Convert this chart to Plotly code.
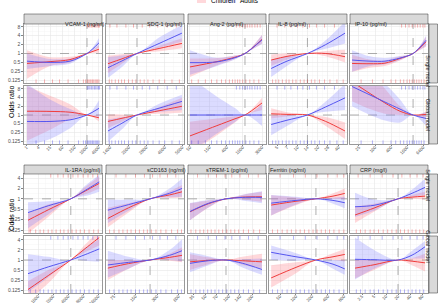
import math
import plotly.graph_objects as go

# ---------------- data ----------------
markers = ["VCAM-1 (ng/ml)", "SDC-1 (pg/ml)", "Ang-2 (pg/ml)", "IL-8 (pg/ml)", "IP-10 (pg/ml)",
           "IL-1RA (pg/ml)", "sCD163 (ng/ml)", "sTREM-1 (pg/ml)", "Ferritin (ng/ml)", "CRP (mg/l)"]
models = ["Single model", "Global model"]
groups = ["Children", "Adults"]

# reference value (OR = 1) of each biomarker
ref_values = [1060, 2350, 1140, 14, 2700, 4530, 240, 92.7, 238, 20]

# x tick labels of each biomarker
ticks_vcam = [1, 4, 15, 60, 250, 1000, 4000]
ticks_sdc = [1400, 2000, 2800, 4000, 5600]
ticks_ang = [50, 150, 400, 1000, 3000]
ticks_il8 = [5, 7, 10, 14, 20, 28, 40]
ticks_ip10 = [25, 100, 400, 1600, 6400]
ticks_il1ra = [1000, 2000, 4000, 8000, 16000]
ticks_scd = [75, 150, 300, 600]
ticks_trem = [35, 50, 70, 100, 140, 200]
ticks_ferr = [50, 100, 200, 400, 800]
ticks_crp = [2.5, 5, 10, 20, 40, 80]

# ---- VCAM-1
vcam_x = [1.06, 15, 150, 1060, 4200]
vcam_s_ch_or = [0.46, 0.53, 0.62, 1, 1.4]
vcam_s_ch_lo = [0.14, 0.38, 0.5, 1, 1.05]
vcam_s_ch_hi = [1.3, 0.75, 0.78, 1, 1.9]
vcam_s_ad_or = [0.55, 0.5, 0.55, 1, 2.3]
vcam_s_ad_lo = [0.3, 0.38, 0.45, 1, 1.6]
vcam_s_ad_hi = [1.0, 0.65, 0.68, 1, 3.3]
vcam_g_ch_or = [1.35, 1.33, 1.25, 1, 0.8]
vcam_g_ch_lo = [0.13, 0.31, 0.7, 1, 0.6]
vcam_g_ch_hi = [10, 4.6, 2.35, 1, 1.05]
vcam_g_ad_or = [0.6, 0.6, 0.68, 1, 1.7]
vcam_g_ad_lo = [0.09, 0.15, 0.35, 1, 0.85]
vcam_g_ad_hi = [12, 3.4, 1.6, 1, 3.2]
vcam_rug_top = [1100, 1300, 1500, 1800, 2100, 2500, 2900, 3400, 4000, 4400]
vcam_rug_bot = [3, 8, 20, 45, 120, 400, 700, 900, 1100, 1300, 1500, 1700, 2000, 2300, 2700, 3100, 3600, 4200]

# ---- SDC-1
sdc_x = [1346, 1762, 2350, 3650, 5570]
sdc_s_ch_or = [0.45, 0.66, 1, 1.5, 2.2]
sdc_s_ch_lo = [0.22, 0.45, 1, 1.2, 1.5]
sdc_s_ch_hi = [0.85, 0.95, 1, 1.85, 3.3]
sdc_s_ad_or = [0.33, 0.56, 1, 2.25, 4.9]
sdc_s_ad_lo = [0.15, 0.35, 1, 1.6, 2.5]
sdc_s_ad_hi = [0.75, 0.85, 1, 3.6, 9.3]
sdc_g_ch_or = [0.6, 0.77, 1, 1.42, 2.0]
sdc_g_ch_lo = [0.35, 0.58, 1, 1.1, 1.2]
sdc_g_ch_hi = [1.05, 1.05, 1, 1.9, 3.9]
sdc_g_ad_or = [0.28, 0.52, 1, 1.75, 2.95]
sdc_g_ad_lo = [0.12, 0.32, 1, 1.3, 1.5]
sdc_g_ad_hi = [0.7, 0.85, 1, 2.5, 5.0]
sdc_rug_top = [1400, 1600, 1900, 2200, 2600, 3000, 3500, 4200, 5000]
sdc_rug_bot = [1380, 1450, 1550, 1650, 1750, 1850, 2000, 2150, 2300, 2500, 2700, 2900, 3200, 3600, 4000, 4600, 5300]

# ---- Ang-2
ang_x = [50, 232, 646, 1140, 3000]
ang_s_ch_or = [0.35, 0.53, 0.75, 1, 3.0]
ang_s_ch_lo = [0.16, 0.4, 0.65, 1, 2.2]
ang_s_ch_hi = [0.68, 0.7, 0.86, 1, 4.3]
ang_s_ad_or = [0.49, 0.52, 0.72, 1, 2.9]
ang_s_ad_lo = [0.19, 0.38, 0.62, 1, 2.1]
ang_s_ad_hi = [1.3, 0.72, 0.85, 1, 4.2]
ang_g_ch_or = [0.19, 0.43, 0.74, 1, 2.6]
ang_g_ch_lo = [0.05, 0.2, 0.55, 1, 1.5]
ang_g_ch_hi = [0.59, 0.75, 0.9, 1, 3.9]
ang_g_ad_or = [1, 1, 1, 1, 1]
ang_g_ad_lo = [0.05, 0.23, 0.57, 1, 0.42]
ang_g_ad_hi = [20, 4.3, 1.74, 1, 2.3]
ang_rug_top = [700, 850, 1000, 1150, 1300, 1500, 1700, 2000, 2300, 2700]
ang_rug_bot = [55, 80, 120, 170, 230, 300, 380, 470, 560, 650, 750, 850, 1000, 1200, 1500, 1900, 2500]

# ---- IL-8
il8_x = [4.1, 7, 14, 26, 50]
il8_s_ch_or = [0.6, 0.8, 1, 1.0, 0.78]
il8_s_ch_lo = [0.38, 0.62, 1, 0.8, 0.5]
il8_s_ch_hi = [0.92, 1.02, 1, 1.22, 1.35]
il8_s_ad_or = [0.31, 0.55, 1, 2.0, 4.9]
il8_s_ad_lo = [0.16, 0.38, 1, 1.45, 2.2]
il8_s_ad_hi = [0.6, 0.8, 1, 2.8, 12]
il8_g_ch_or = [1.1, 1.05, 1, 0.6, 0.28]
il8_g_ch_lo = [0.75, 0.88, 1, 0.42, 0.15]
il8_g_ch_hi = [1.7, 1.25, 1, 0.85, 0.55]
il8_g_ad_or = [0.47, 0.66, 1, 1.9, 3.9]
il8_g_ad_lo = [0.2, 0.42, 1, 1.3, 1.5]
il8_g_ad_hi = [0.95, 1.0, 1, 2.9, 12]
il8_rug_top = [5, 6.5, 8, 10, 12, 15, 19, 25, 35]
il8_rug_bot = [4.3, 4.8, 5.3, 6, 6.8, 7.5, 8.5, 9.5, 11, 12.5, 14, 16, 18, 21, 25, 30, 38, 47]

# ---- IP-10
ip10_x = [13.7, 65, 236, 871, 2700, 8300]
ip10_s_ch_or = [0.46, 0.45, 0.47, 0.68, 1, 2.5]
ip10_s_ch_lo = [0.24, 0.33, 0.38, 0.58, 1, 1.7]
ip10_s_ch_hi = [0.9, 0.62, 0.58, 0.8, 1, 3.7]
ip10_s_ad_or = [0.6, 0.55, 0.55, 0.7, 1, 2.8]
ip10_s_ad_lo = [0.24, 0.38, 0.43, 0.6, 1, 1.8]
ip10_s_ad_hi = [1.3, 0.8, 0.7, 0.82, 1, 4.0]
ip10_g_ch_or = [14, 5.5, 2.6, 1.35, 1, 1.05]
ip10_g_ch_lo = [3, 1.6, 1.1, 1.0, 1, 0.8]
ip10_g_ch_hi = [60, 30, 8, 2.0, 1, 1.3]
ip10_g_ad_or = [9.6, 4.9, 2.8, 1.6, 1, 0.76]
ip10_g_ad_lo = [2.0, 1.0, 0.65, 0.55, 1, 0.42]
ip10_g_ad_hi = [50, 30, 12, 3.4, 1, 1.3]
ip10_rug_top = [1000, 1400, 1900, 2500, 3200, 4000, 5000, 6300, 7500]
ip10_rug_bot = [30, 80, 200, 400, 600, 900, 1200, 1600, 2000, 2500, 3000, 3700, 4500, 5500, 7000]

# ---- IL-1RA
il1ra_x = [631, 1600, 4530, 8770, 16750]
il1ra_s_ch_or = [0.24, 0.48, 1, 1.68, 2.8]
il1ra_s_ch_lo = [0.1, 0.3, 1, 1.35, 2.0]
il1ra_s_ch_hi = [0.38, 0.68, 1, 2.2, 4.4]
il1ra_s_ad_or = [0.4, 0.63, 1, 1.75, 3.1]
il1ra_s_ad_lo = [0.14, 0.35, 1, 1.2, 1.6]
il1ra_s_ad_hi = [0.8, 0.85, 1, 2.4, 4.9]
il1ra_g_ch_or = [0.13, 0.34, 1, 2.2, 4.7]
il1ra_g_ch_lo = [0.06, 0.2, 1, 1.7, 2.7]
il1ra_g_ch_hi = [0.23, 0.5, 1, 2.9, 7.5]
il1ra_g_ad_or = [0.39, 0.62, 1, 1.45, 2.15]
il1ra_g_ad_lo = [0.11, 0.3, 1, 0.95, 0.88]
il1ra_g_ad_hi = [1.5, 1.25, 1, 2.3, 4.2]
il1ra_rug_top = [1800, 2500, 3200, 4000, 5000, 6300, 8000, 10000, 12500, 15500]
il1ra_rug_bot = [700, 900, 1100, 1300, 1600, 1900, 2300, 2800, 3300, 4000, 4800, 5800, 7000, 8500, 10500, 13000, 16000]

# ---- sCD163
scd_x = [61.5, 120, 240, 450, 672]
scd_s_ch_or = [0.27, 0.55, 1, 1.3, 1.6]
scd_s_ch_lo = [0.15, 0.4, 1, 1.05, 1.1]
scd_s_ch_hi = [0.55, 0.75, 1, 1.65, 2.5]
scd_s_ad_or = [0.47, 0.68, 1, 1.45, 2.0]
scd_s_ad_lo = [0.2, 0.45, 1, 1.12, 1.15]
scd_s_ad_hi = [0.95, 0.95, 1, 2.0, 3.9]
scd_g_ch_or = [0.57, 0.78, 1, 1.2, 1.38]
scd_g_ch_lo = [0.25, 0.55, 1, 0.95, 0.85]
scd_g_ch_hi = [1.0, 1.0, 1, 1.55, 2.4]
scd_g_ad_or = [0.71, 0.85, 1, 1.38, 1.9]
scd_g_ad_lo = [0.3, 0.55, 1, 1.0, 0.9]
scd_g_ad_hi = [1.9, 1.25, 1, 2.0, 4.2]
scd_rug_top = [80, 110, 150, 200, 260, 330, 420, 550]
scd_rug_bot = [65, 75, 88, 100, 115, 130, 150, 170, 195, 220, 250, 290, 340, 400, 480, 580, 660]

# ---- sTREM-1
trem_x = [32, 55, 92.7, 150, 268]
trem_s_ch_or = [0.42, 0.72, 1, 1.12, 1.15]
trem_s_ch_lo = [0.24, 0.55, 1, 0.95, 0.82]
trem_s_ch_hi = [0.74, 0.9, 1, 1.3, 1.6]
trem_s_ad_or = [0.43, 0.74, 1, 1.1, 1.1]
trem_s_ad_lo = [0.24, 0.56, 1, 0.9, 0.75]
trem_s_ad_hi = [0.76, 0.93, 1, 1.32, 1.65]
trem_g_ch_or = [0.88, 0.97, 1, 0.95, 0.88]
trem_g_ch_lo = [0.5, 0.75, 1, 0.72, 0.55]
trem_g_ch_hi = [1.5, 1.2, 1, 1.25, 1.55]
trem_g_ad_or = [0.79, 0.95, 1, 0.8, 0.52]
trem_g_ad_lo = [0.43, 0.7, 1, 0.6, 0.36]
trem_g_ad_hi = [1.7, 1.3, 1, 1.05, 1.1]
trem_rug_top = [40, 55, 70, 90, 110, 140, 180, 240]
trem_rug_bot = [33, 38, 43, 48, 54, 60, 67, 75, 84, 95, 107, 120, 135, 155, 180, 210, 250]

# ---- Ferritin
ferr_x = [34, 100, 238, 500, 835]
ferr_s_ch_or = [0.66, 0.85, 1, 1.2, 1.44]
ferr_s_ch_lo = [0.33, 0.65, 1, 1.0, 0.97]
ferr_s_ch_hi = [1.27, 1.1, 1, 1.45, 2.0]
ferr_s_ad_or = [0.75, 0.9, 1, 0.9, 0.77]
ferr_s_ad_lo = [0.33, 0.68, 1, 0.72, 0.53]
ferr_s_ad_hi = [1.3, 1.15, 1, 1.08, 1.15]
ferr_g_ch_or = [0.29, 0.6, 1, 1.25, 1.47]
ferr_g_ch_lo = [0.15, 0.4, 1, 1.0, 0.9]
ferr_g_ch_hi = [0.7, 0.85, 1, 1.6, 2.15]
ferr_g_ad_or = [1.7, 1.25, 1, 0.75, 0.54]
ferr_g_ad_lo = [1.0, 0.95, 1, 0.55, 0.36]
ferr_g_ad_hi = [2.7, 1.6, 1, 1.0, 1.0]
ferr_rug_top = [50, 90, 150, 250, 400, 600, 800]
ferr_rug_bot = [36, 45, 55, 68, 82, 100, 120, 145, 175, 210, 250, 300, 360, 430, 520, 650, 800]

# ---- CRP
crp_x = [1.67, 5, 20, 45, 95]
crp_s_ch_or = [0.34, 0.54, 1, 1.12, 1.2]
crp_s_ch_lo = [0.2, 0.42, 1, 1.0, 0.95]
crp_s_ch_hi = [0.6, 0.72, 1, 1.3, 1.6]
crp_s_ad_or = [0.59, 0.65, 1, 1.45, 2.15]
crp_s_ad_lo = [0.3, 0.45, 1, 1.15, 1.3]
crp_s_ad_hi = [1.5, 0.95, 1, 1.85, 3.9]
crp_g_ch_or = [0.57, 0.72, 1, 0.92, 0.82]
crp_g_ch_lo = [0.28, 0.5, 1, 0.7, 0.45]
crp_g_ch_hi = [1.0, 1.0, 1, 1.15, 1.55]
crp_g_ad_or = [1.05, 1.02, 1, 1.4, 2.5]
crp_g_ad_lo = [0.26, 0.55, 1, 1.1, 1.1]
crp_g_ad_hi = [4.7, 2.0, 1, 1.9, 3.7]
crp_rug_top = [2, 4, 8, 15, 25, 40, 60, 85]
crp_rug_bot = [1.8, 2.3, 3, 4, 5, 6.5, 8.5, 11, 14, 18, 23, 29, 36, 45, 56, 70, 88]

y_ticks_top = [0.125, 0.25, 0.5, 1, 2, 4, 8]
y_ticks_bottom = [0.125, 0.25, 0.5, 1, 2, 4]

# ---------------- assemble ----------------
marker_x = [vcam_x, sdc_x, ang_x, il8_x, ip10_x, il1ra_x, scd_x, trem_x, ferr_x, crp_x]
marker_ticks = [ticks_vcam, ticks_sdc, ticks_ang, ticks_il8, ticks_ip10,
                ticks_il1ra, ticks_scd, ticks_trem, ticks_ferr, ticks_crp]
marker_rugs = [(vcam_rug_top, vcam_rug_bot), (sdc_rug_top, sdc_rug_bot), (ang_rug_top, ang_rug_bot),
               (il8_rug_top, il8_rug_bot), (ip10_rug_top, ip10_rug_bot), (il1ra_rug_top, il1ra_rug_bot),
               (scd_rug_top, scd_rug_bot), (trem_rug_top, trem_rug_bot), (ferr_rug_top, ferr_rug_bot),
               (crp_rug_top, crp_rug_bot)]
series = {
    0: [[(vcam_s_ch_or, vcam_s_ch_lo, vcam_s_ch_hi), (vcam_s_ad_or, vcam_s_ad_lo, vcam_s_ad_hi)],
        [(vcam_g_ch_or, vcam_g_ch_lo, vcam_g_ch_hi), (vcam_g_ad_or, vcam_g_ad_lo, vcam_g_ad_hi)]],
    1: [[(sdc_s_ch_or, sdc_s_ch_lo, sdc_s_ch_hi), (sdc_s_ad_or, sdc_s_ad_lo, sdc_s_ad_hi)],
        [(sdc_g_ch_or, sdc_g_ch_lo, sdc_g_ch_hi), (sdc_g_ad_or, sdc_g_ad_lo, sdc_g_ad_hi)]],
    2: [[(ang_s_ch_or, ang_s_ch_lo, ang_s_ch_hi), (ang_s_ad_or, ang_s_ad_lo, ang_s_ad_hi)],
        [(ang_g_ch_or, ang_g_ch_lo, ang_g_ch_hi), (ang_g_ad_or, ang_g_ad_lo, ang_g_ad_hi)]],
    3: [[(il8_s_ch_or, il8_s_ch_lo, il8_s_ch_hi), (il8_s_ad_or, il8_s_ad_lo, il8_s_ad_hi)],
        [(il8_g_ch_or, il8_g_ch_lo, il8_g_ch_hi), (il8_g_ad_or, il8_g_ad_lo, il8_g_ad_hi)]],
    4: [[(ip10_s_ch_or, ip10_s_ch_lo, ip10_s_ch_hi), (ip10_s_ad_or, ip10_s_ad_lo, ip10_s_ad_hi)],
        [(ip10_g_ch_or, ip10_g_ch_lo, ip10_g_ch_hi), (ip10_g_ad_or, ip10_g_ad_lo, ip10_g_ad_hi)]],
    5: [[(il1ra_s_ch_or, il1ra_s_ch_lo, il1ra_s_ch_hi), (il1ra_s_ad_or, il1ra_s_ad_lo, il1ra_s_ad_hi)],
        [(il1ra_g_ch_or, il1ra_g_ch_lo, il1ra_g_ch_hi), (il1ra_g_ad_or, il1ra_g_ad_lo, il1ra_g_ad_hi)]],
    6: [[(scd_s_ch_or, scd_s_ch_lo, scd_s_ch_hi), (scd_s_ad_or, scd_s_ad_lo, scd_s_ad_hi)],
        [(scd_g_ch_or, scd_g_ch_lo, scd_g_ch_hi), (scd_g_ad_or, scd_g_ad_lo, scd_g_ad_hi)]],
    7: [[(trem_s_ch_or, trem_s_ch_lo, trem_s_ch_hi), (trem_s_ad_or, trem_s_ad_lo, trem_s_ad_hi)],
        [(trem_g_ch_or, trem_g_ch_lo, trem_g_ch_hi), (trem_g_ad_or, trem_g_ad_lo, trem_g_ad_hi)]],
    8: [[(ferr_s_ch_or, ferr_s_ch_lo, ferr_s_ch_hi), (ferr_s_ad_or, ferr_s_ad_lo, ferr_s_ad_hi)],
        [(ferr_g_ch_or, ferr_g_ch_lo, ferr_g_ch_hi), (ferr_g_ad_or, ferr_g_ad_lo, ferr_g_ad_hi)]],
    9: [[(crp_s_ch_or, crp_s_ch_lo, crp_s_ch_hi), (crp_s_ad_or, crp_s_ad_lo, crp_s_ad_hi)],
        [(crp_g_ch_or, crp_g_ch_lo, crp_g_ch_hi), (crp_g_ad_or, crp_g_ad_lo, crp_g_ad_hi)]],
}

# ---------------- layout geometry (pixels) ----------------
W, H = 440, 303
def pxx(x): return x / W
def pxy(y): return 1 - y / H

COL_X0 = [24, 106, 188, 269, 350]
PANEL_W = 78
ROW_Y = [(24, 83), (86, 144), (174, 233), (236, 293)]
# log10 x-range of each panel
X_RANGE = [(-0.125, 3.775), (3.113, 3.763), (1.650, 3.576), (0.581, 1.728), (1.060, 3.992),
           (2.72, 4.28), (1.763, 2.855), (1.480, 2.480), (1.491, 2.963), (0.097, 2.052)]
Y_RANGE = [(-1.0, 1.0), (-0.99, 0.72)]

LINE_COLS = ["#F03C3C", "#5555F0"]
FILL_COLS = ["rgba(255,100,110,0.25)", "rgba(110,110,255,0.25)"]
RUG_COLS = ["rgba(230,0,0,0.5)", "rgba(0,0,230,0.5)"]
GRID = "#e6e6e6"
MINOR = "#f3f3f3"
BORDER = "#555555"
TICKC = "#4d4d4d"
FONT = "Liberation Sans, Arial, sans-serif"

fig = go.Figure()
layout = dict(width=W, height=H, margin=dict(l=0, r=0, t=0, b=0, autoexpand=False),
              paper_bgcolor="white", plot_bgcolor="white", showlegend=False,
              font=dict(family=FONT, color="black"))
shapes, annotations = [], []

def geo_mid(vals):
    return [math.sqrt(vals[k] * vals[k + 1]) for k in range(len(vals) - 1)]

for m in range(10):
    block, c = divmod(m, 5)
    xr = X_RANGE[m]
    yr = Y_RANGE[block]
    yt = y_ticks_top if block == 0 else y_ticks_bottom
    xs = marker_x[m]
    for model in range(2):
        r = block * 2 + model
        i = r * 5 + c + 1
        xa = "x" if i == 1 else f"x{i}"
        ya = "y" if i == 1 else f"y{i}"
        y0, y1 = ROW_Y[r]
        x0 = COL_X0[c]
        bottom_row = (model == 1)
        layout["xaxis" if i == 1 else f"xaxis{i}"] = dict(
            type="log", range=list(xr), domain=[pxx(x0), pxx(x0 + PANEL_W)], anchor=ya, automargin=False,
            tickmode="array", tickvals=marker_ticks[m], ticktext=[f"{v:g}" for v in marker_ticks[m]],
            showticklabels=bottom_row, tickangle=-45, tickfont=dict(size=4.4, color=TICKC, family=FONT),
            ticklabelstandoff=-3,
            ticks="outside" if bottom_row else "", ticklen=1.5, tickwidth=0.6, tickcolor="#333333",
            showgrid=True, gridcolor=GRID, gridwidth=0.6, zeroline=False,
            minor=dict(tickvals=geo_mid(marker_ticks[m]), showgrid=True, gridcolor=MINOR, gridwidth=0.4, ticks=""),
            showline=True, mirror=True, linecolor=BORDER, linewidth=0.6, fixedrange=True)
        layout["yaxis" if i == 1 else f"yaxis{i}"] = dict(
            type="log", range=list(yr), domain=[pxy(y1), pxy(y0)], anchor=xa, automargin=False,
            tickmode="array", tickvals=yt, ticktext=[f"{v:g}" for v in yt],
            showticklabels=(c == 0), tickfont=dict(size=5, color=TICKC, family=FONT),
            ticks="outside" if c == 0 else "", ticklen=2, tickwidth=0.6, tickcolor="#333333",
            showgrid=True, gridcolor=GRID, gridwidth=0.6, zeroline=False,
            minor=dict(tickvals=geo_mid(yt), showgrid=True, gridcolor=MINOR, gridwidth=0.4, ticks=""),
            showline=True, mirror=True, linecolor=BORDER, linewidth=0.6, fixedrange=True)

        # reference lines
        fig.add_trace(go.Scatter(x=[10 ** xr[0], 10 ** xr[1]], y=[1, 1], mode="lines", xaxis=xa, yaxis=ya,
                                 line=dict(color="#8c8c8c", width=0.7, dash="dash"), hoverinfo="skip"))
        fig.add_trace(go.Scatter(x=[ref_values[m], ref_values[m]], y=[10 ** yr[0], 10 ** yr[1]], mode="lines",
                                 xaxis=xa, yaxis=ya, line=dict(color="#8c8c8c", width=0.7, dash="dash"),
                                 hoverinfo="skip"))
        # ribbons
        for g in range(2):
            orv, lo, hi = series[m][model][g]
            fig.add_trace(go.Scatter(x=xs, y=lo, mode="lines", xaxis=xa, yaxis=ya,
                                     line=dict(width=0, shape="spline", smoothing=0.9), hoverinfo="skip"))
            fig.add_trace(go.Scatter(x=xs, y=hi, mode="lines", xaxis=xa, yaxis=ya, fill="tonexty",
                                     fillcolor=FILL_COLS[g],
                                     line=dict(width=0, shape="spline", smoothing=0.9), hoverinfo="skip"))
        # lines
        for g in range(2):
            orv, lo, hi = series[m][model][g]
            fig.add_trace(go.Scatter(x=xs, y=orv, mode="lines", xaxis=xa, yaxis=ya, name=groups[g],
                                     line=dict(color=LINE_COLS[g], width=1, shape="spline", smoothing=0.9)))
        # rugs
        d = 1.5 / (y1 - y0) * (yr[1] - yr[0])
        rtop, rbot = marker_rugs[m]
        rc = RUG_COLS[model]
        for vals, yv in ((rtop, 10 ** (yr[1] - d)), (rbot, 10 ** (yr[0] + d))):
            fig.add_trace(go.Scatter(x=vals, y=[yv] * len(vals), mode="markers", xaxis=xa, yaxis=ya,
                                     marker=dict(symbol="line-ns", size=3, line=dict(width=0.6, color=rc)),
                                     hoverinfo="skip"))

        # right-hand strip
        if c == 4:
            shapes.append(dict(type="rect", xref="paper", yref="paper", x0=pxx(429), x1=pxx(437.5),
                               y0=pxy(y1), y1=pxy(y0), fillcolor="#d9d9d9",
                               line=dict(color="#333333", width=0.5), layer="above"))
            annotations.append(dict(text=models[model], xref="paper", yref="paper", x=pxx(433.3),
                                    y=pxy((y0 + y1) / 2), showarrow=False, textangle=90,
                                    font=dict(size=5.5, color="#1a1a1a", family=FONT)))
    # top strip
    sy0, sy1 = (14, 24) if block == 0 else (165, 174)
    x0 = COL_X0[c]
    shapes.append(dict(type="rect", xref="paper", yref="paper", x0=pxx(x0), x1=pxx(x0 + PANEL_W),
                       y0=pxy(sy1), y1=pxy(sy0), fillcolor="#d9d9d9",
                       line=dict(color="#333333", width=0.5), layer="above"))
    annotations.append(dict(text=markers[m], xref="paper", yref="paper", x=pxx(x0 + PANEL_W / 2),
                            y=pxy((sy0 + sy1) / 2), showarrow=False,
                            font=dict(size=5.5, color="#1a1a1a", family=FONT)))

# y titles
for yc in (84, 233):
    annotations.append(dict(text="Odds ratio", xref="paper", yref="paper", x=pxx(5.5), y=pxy(yc),
                            showarrow=False, textangle=-90, font=dict(size=7, color="black", family=FONT)))

# legend (cut at top edge, as in the reference)
for g, (sx, tx) in enumerate(((197, 208.5), (227, 238.5))):
    shapes.append(dict(type="rect", xref="paper", yref="paper", x0=pxx(sx), x1=pxx(sx + 9),
                       y0=pxy(3), y1=1.0, fillcolor=FILL_COLS[g], line=dict(width=0)))
    annotations.append(dict(text=groups[g], xref="paper", yref="paper", x=pxx(tx), y=1.0,
                            xanchor="left", yanchor="middle", showarrow=False,
                            font=dict(size=6.5, color="black", family=FONT)))

layout["shapes"] = shapes
layout["annotations"] = annotations
fig.update_layout(**layout)
fig.write_html("out.html", config={"displayModeBar": False, "staticPlot": True},
               post_script="document.body.style.margin='0';document.body.style.padding='0';"
                           "document.documentElement.style.overflow='hidden';")
